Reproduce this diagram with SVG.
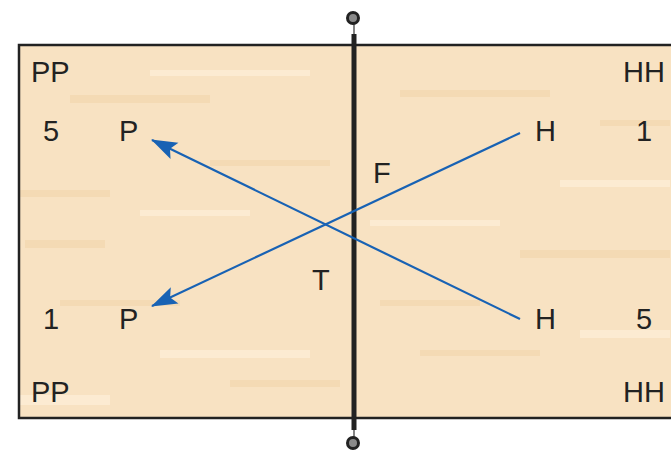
<svg xmlns="http://www.w3.org/2000/svg" width="671" height="452" viewBox="0 0 671 452">
<defs>
<style>
.t{font-family:"Liberation Sans",Arial,sans-serif;font-size:29px;fill:#222}
.a{stroke:#1862b4;stroke-width:2.2;fill:none}
.s1{fill:#f4dab4}
.s2{fill:#fcebd2}
</style>
<marker id="ah" viewBox="0 0 26 18" refX="25" refY="9" markerWidth="26" markerHeight="18" markerUnits="userSpaceOnUse" orient="auto" overflow="visible">
<path d="M0,0 L26,9 L0,18 L5,9 Z" fill="#1862b4"/>
</marker>
</defs>
<rect width="671" height="452" fill="#fff"/>
<g id="court">
<rect x="19" y="45" width="660" height="373" fill="#f8e2c2"/>
<g id="wood">
<rect class="s1" x="70" y="95" width="140" height="8"/>
<rect class="s2" x="150" y="70" width="160" height="6"/>
<rect class="s1" x="20" y="190" width="90" height="7"/>
<rect class="s2" x="140" y="210" width="110" height="6"/>
<rect class="s1" x="210" y="160" width="120" height="6"/>
<rect class="s1" x="25" y="240" width="80" height="8"/>
<rect class="s2" x="160" y="350" width="150" height="8"/>
<rect class="s1" x="60" y="300" width="120" height="6"/>
<rect class="s1" x="230" y="380" width="110" height="7"/>
<rect class="s2" x="20" y="395" width="90" height="10"/>
<rect class="s1" x="400" y="90" width="150" height="7"/>
<rect class="s2" x="370" y="220" width="130" height="6"/>
<rect class="s1" x="520" y="250" width="150" height="8"/>
<rect class="s1" x="420" y="350" width="120" height="6"/>
<rect class="s2" x="560" y="180" width="110" height="7"/>
<rect class="s1" x="380" y="300" width="100" height="6"/>
<rect class="s2" x="580" y="330" width="90" height="8"/>
<rect class="s1" x="600" y="120" width="70" height="6"/>
</g>
<rect x="19" y="45" width="660" height="373" fill="none" stroke="#222" stroke-width="2.5"/>
</g>
<g id="net">
<line x1="354" y1="18" x2="354" y2="442" stroke="#333" stroke-width="1.2"/>
<line x1="354" y1="34" x2="354" y2="430" stroke="#222" stroke-width="5"/>
<circle cx="353" cy="18" r="5.5" fill="#8a8a8a" stroke="#222" stroke-width="3"/>
<circle cx="353" cy="443" r="5.5" fill="#8a8a8a" stroke="#222" stroke-width="3"/>
</g>
<g id="connectors">
<line class="a" x1="520" y1="319" x2="152" y2="140" marker-end="url(#ah)"/>
<line class="a" x1="520" y1="133" x2="152" y2="306" marker-end="url(#ah)"/>
</g>
<g id="labels">
<text class="t" x="31" y="82">PP</text>
<text class="t" x="31" y="402">PP</text>
<text class="t" x="623" y="82">HH</text>
<text class="t" x="623" y="402">HH</text>
<text class="t" x="43" y="141">5</text>
<text class="t" x="119" y="141">P</text>
<text class="t" x="43" y="329">1</text>
<text class="t" x="119" y="329">P</text>
<text class="t" x="535" y="141">H</text>
<text class="t" x="636" y="141">1</text>
<text class="t" x="535" y="329">H</text>
<text class="t" x="636" y="329">5</text>
<text class="t" x="373" y="183">F</text>
<text class="t" x="312" y="290">T</text>
</g>
</svg>
